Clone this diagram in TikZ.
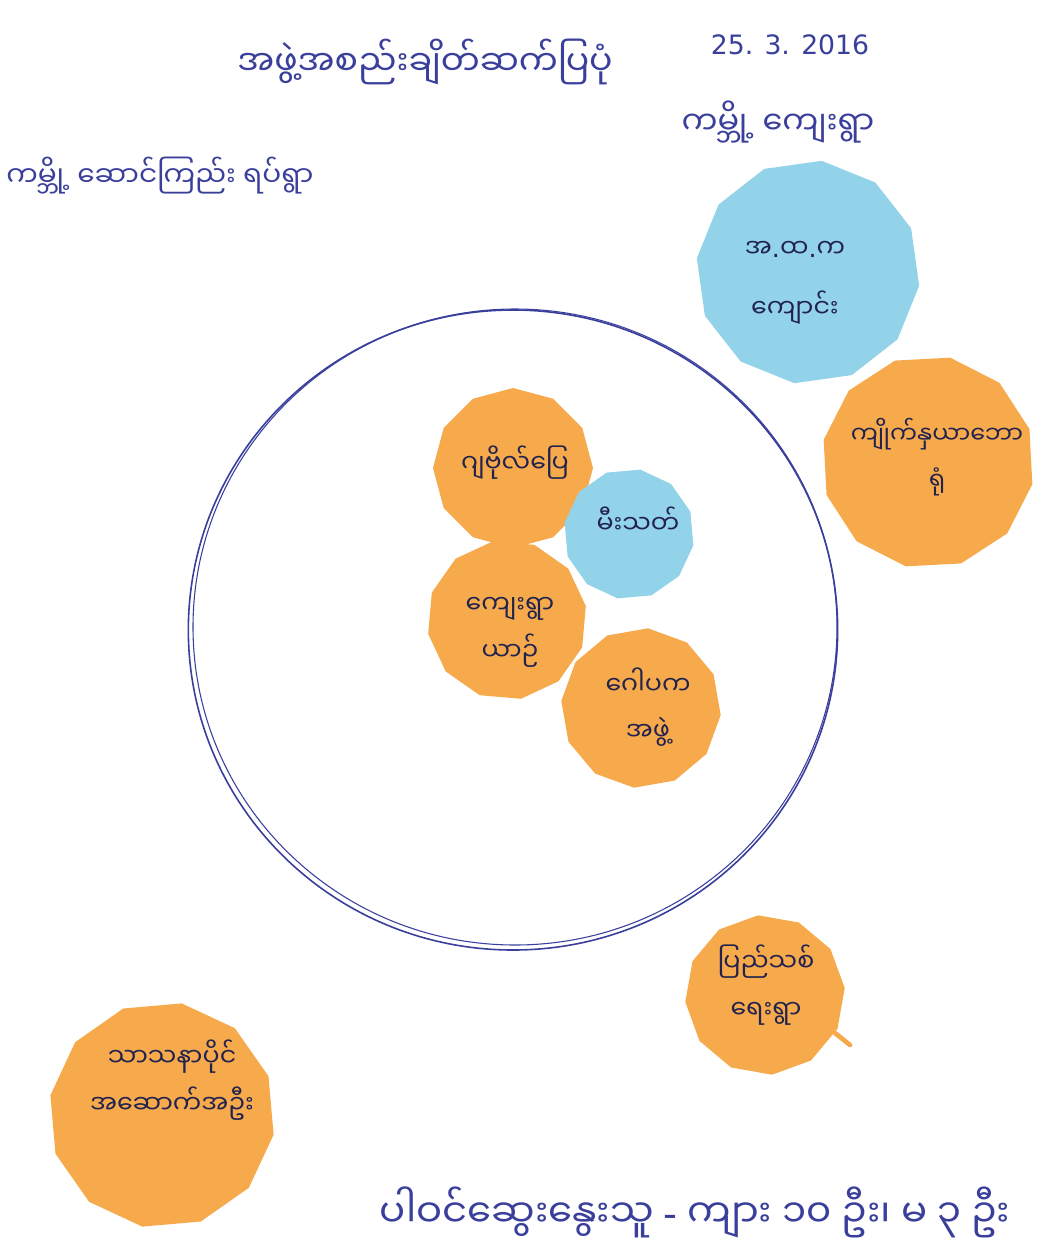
\documentclass[tikz,border=0pt]{standalone}
\usepackage{fontspec}
\newfontfamily\mm[Script=Myanmar]{Noto Sans Myanmar UI}
\newfontfamily\lat{DejaVu Sans}
\usetikzlibrary{shapes.geometric}
\definecolor{ink}{HTML}{3A3F9C}
\definecolor{darkink}{HTML}{22224E}
\definecolor{paperorange}{HTML}{F6AA4C}
\definecolor{paperblue}{HTML}{92D3EA}
\tikzset{
  hand/.style={text=ink, font=\mm\fontsize{24}{30}\selectfont, align=center},
  paper/.style={regular polygon, regular polygon sides=12, draw=none, inner sep=0pt},
  orangepaper/.style={paper, fill=paperorange},
  bluepaper/.style={paper, fill=paperblue},
  papertext/.style={text=darkink, font=\mm\fontsize{19}{35}\selectfont, align=center, inner sep=1pt},
  ring/.style={ellipse, draw=ink, line width=1.2pt, fill=none},
}
\begin{document}
\begin{tikzpicture}[x=0.75pt,y=-0.75pt]
\useasboundingbox[fill=white] (0,0) rectangle (1064,1258);
% big hand-drawn circle (double stroke)
\node[ring, minimum width=487pt, minimum height=480pt] (bigcircle) at (513,630) {};
\node[ring, minimum width=483pt, minimum height=477pt, line width=0.8pt] (bigcircle2) at (515,627) {};
% headings
\node[hand, font=\mm\fontsize{26}{30}\selectfont] (title) at (425,62) {အဖွဲ့အစည်းချိတ်ဆက်ပြပုံ};
\node[hand, font=\lat\fontsize{20}{24}\selectfont] (date) at (790,45) {25. 3. 2016};
\node[hand] (village) at (778,122) {ကမ္ဘို့ ကျေးရွာ};
\node[hand, font=\mm\fontsize{21}{26}\selectfont] (area) at (160,176) {ကမ္ဘို့ ဆောင်ကြည်း ရပ်ရွာ};
% papers outside
\node[bluepaper, minimum size=168pt, shape border rotate=8] (school) at (808,272) {};
\node[papertext, font=\mm\fontsize{19}{45}\selectfont] (schooltext) at (795,283) {အ{\lat .}ထ{\lat .}က\\ကျောင်း};
\node[orangepaper, minimum size=160pt, shape border rotate=3] (kyaik) at (928,462) {};
\node[papertext, font=\mm\fontsize{18}{35}\selectfont] (kyaiktext) at (937,457) {ကျိုက်နှယာဘော\\ရုံ};
% papers inside
\node[orangepaper, minimum size=120pt, shape border rotate=15] (n1) at (513,468) {};
\node[papertext] (n1text) at (515,463) {ဂျဗိုလ်ပြေ};
\node[bluepaper, minimum size=98pt, shape border rotate=5] (fire) at (629,534) {};
\node[papertext] (firetext) at (638,520) {မီးသတ်};
\node[orangepaper, minimum size=120pt, shape border rotate=25] (n2) at (507,620) {};
\node[papertext] (n2text) at (510,632) {ကျေးရွာ\\ယာဉ်};
\node[orangepaper, minimum size=120pt, shape border rotate=10] (goapaka) at (641,708) {};
\node[papertext] (goapakatext) at (648,707) {ဂေါပက\\အဖွဲ့};
% papers lower
\coordinate (tab) at (850,1045);
\node[orangepaper, minimum size=120pt, shape border rotate=20] (n3) at (765,995) {};
\draw[paperorange, line width=3.5pt, line cap=round] (n3.center) ++(70,38) -- (tab);
\node[papertext] (n3text) at (766,985) {ပြည်သစ်\\ရေးရွာ};
\node[orangepaper, minimum size=170pt, shape border rotate=5] (n4) at (162,1115) {};
\node[papertext] (n4text) at (172,1080) {သာသနာပိုင်\\အဆောက်အဦး};
% participants
\node[hand, font=\mm\fontsize{29}{32}\selectfont] (participants) at (695,1212) {ပါဝင်ဆွေးနွေးသူ {\lat -} ကျား ၁၀ ဦး၊ မ ၃ ဦး};
\end{tikzpicture}
\end{document}
